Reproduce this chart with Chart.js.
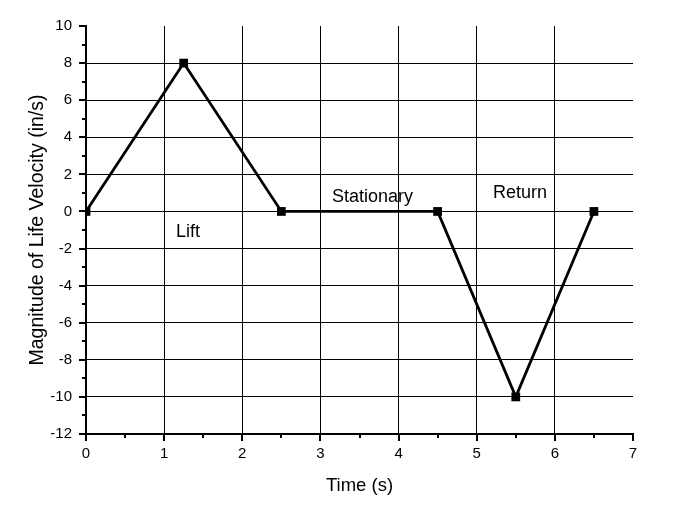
<!DOCTYPE html>
<html>
<head>
<meta charset="utf-8">
<script src="https://cdn.jsdelivr.net/npm/chart.js@4"></script>
<style>
  html, body { margin: 0; padding: 0; background: #fff; }
  #wrap { width: 675px; height: 509px; }
</style>
</head>
<body>
<div id="wrap"><canvas id="chart"></canvas></div>
<script>
// dados
const tempos = [0, 1.25, 2.5, 4.5, 5.5, 6.5];
const velocidades = [0, 8, 0, 0, -10, 0];
const xTicks = [0, 1, 2, 3, 4, 5, 6, 7];
const yTicks = [-12, -10, -8, -6, -4, -2, 0, 2, 4, 6, 8, 10];
const notasTexto = ["Lift", "Stationary", "Return"];
const notasX = [1.305, 3.667, 5.555];
const notasY = [-1.38, 0.49, 0.74];

const FONTE = "Arial, 'Liberation Sans', sans-serif";

// ticks maiores e menores desenhados para fora do eixo
const ticksPlugin = {
  id: "ticksOrigin",
  afterDraw(chart) {
    const ctx = chart.ctx;
    const xs = chart.scales.x;
    const ys = chart.scales.y;
    const area = chart.chartArea;
    ctx.save();
    ctx.strokeStyle = "#000";
    ctx.lineWidth = 2;
    ctx.beginPath();
    for (let v = xs.min; v <= xs.max + 1e-9; v += 0.5) {
      const px = Math.round(xs.getPixelForValue(v));
      const len = Number.isInteger(v) ? 7 : 4;
      ctx.moveTo(px, area.bottom);
      ctx.lineTo(px, area.bottom + len);
    }
    for (let v = ys.min; v <= ys.max + 1e-9; v += 1) {
      const py = Math.round(ys.getPixelForValue(v));
      const len = v % 2 === 0 ? 7 : 4;
      ctx.moveTo(area.left, py);
      ctx.lineTo(area.left - len, py);
    }
    ctx.stroke();
    ctx.restore();
  },
  afterDatasetsDraw(chart) {
    const ctx = chart.ctx;
    const xs = chart.scales.x;
    const ys = chart.scales.y;
    ctx.save();
    ctx.fillStyle = "#000";
    ctx.font = "18px " + FONTE;
    ctx.textAlign = "center";
    ctx.textBaseline = "alphabetic";
    notasTexto.forEach((t, i) => {
      ctx.fillText(t, xs.getPixelForValue(notasX[i]), ys.getPixelForValue(notasY[i]));
    });
    ctx.restore();
  },
};

const ctx = document.getElementById("chart").getContext("2d");
new Chart(ctx, {
  type: "line",
  data: {
    datasets: [
      {
        data: tempos.map((t, i) => ({ x: t, y: velocidades[i] })),
        borderColor: "#000",
        backgroundColor: "#000",
        borderWidth: 2.8,
        pointStyle: "rect",
        pointRadius: 6.2,
        pointBorderWidth: 0,
        tension: 0,
        fill: false,
      },
    ],
  },
  options: {
    responsive: true,
    maintainAspectRatio: false,
    animation: false,
    layout: { padding: { top: 26, right: 42, left: 0, bottom: 0 } },
    plugins: {
      legend: { display: false },
      tooltip: { enabled: false },
    },
    scales: {
      x: {
        type: "linear",
        min: 0,
        max: 7,
        afterFit: (s) => { s.height = 75; },
        afterBuildTicks: (s) => { s.ticks = xTicks.map((v) => ({ value: v })); },
        border: { color: "#000", width: 2 },
        grid: {
          drawTicks: false,
          color: (c) => (c.tick && c.tick.value > 0 && c.tick.value < 7 ? "#000" : "rgba(0,0,0,0)"),
          lineWidth: 1,
        },
        ticks: {
          padding: 11,
          color: "#000",
          font: { size: 15, family: FONTE },
        },
        title: {
          display: true,
          text: "Time (s)",
          color: "#000",
          font: { size: 18.5, family: FONTE },
          padding: { top: 0, bottom: 12 },
        },
      },
      y: {
        type: "linear",
        min: -12,
        max: 10,
        afterFit: (s) => { s.width = 86; },
        afterBuildTicks: (s) => { s.ticks = yTicks.map((v) => ({ value: v })); },
        border: { color: "#000", width: 2 },
        grid: {
          drawTicks: false,
          color: (c) => (c.tick && c.tick.value > -12 && c.tick.value < 10 ? "#000" : "rgba(0,0,0,0)"),
          lineWidth: 1,
        },
        ticks: {
          padding: 14,
          color: "#000",
          font: { size: 15, family: FONTE },
        },
        title: {
          display: true,
          text: "Magnitude of Life Velocity (in/s)",
          color: "#000",
          font: { size: 19.5, family: FONTE },
          padding: { top: 26, bottom: 0 },
        },
      },
    },
  },
  plugins: [ticksPlugin],
});
</script>
</body>
</html>
